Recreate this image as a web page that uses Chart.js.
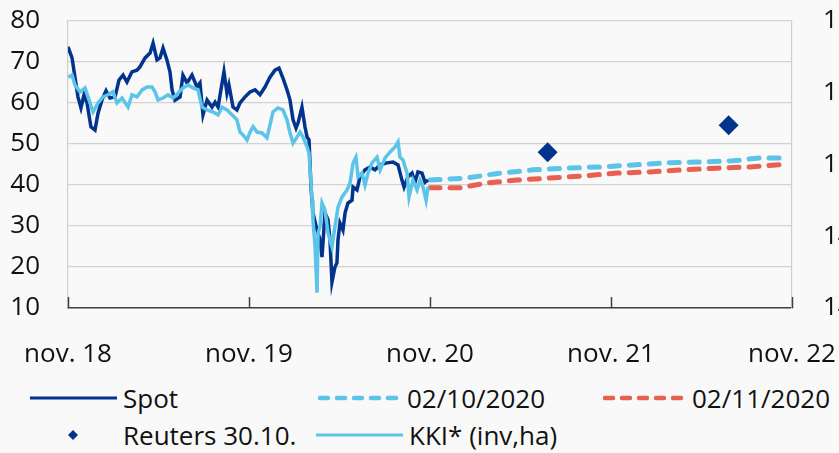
<!DOCTYPE html>
<html lang="hu">
<head>
  <meta charset="UTF-8" />
  <title>Spot, határidős görbék, KKI</title>
  <script src="https://cdn.jsdelivr.net/npm/chart.js"></script>
  <style>
    html, body { margin: 0; padding: 0; background: #f9f9f9; overflow: hidden; }
    body { width: 839px; height: 453px; position: relative; font-family: "Open Sans", sans-serif; color: #111; }
    #chart { position: absolute; left: 0; top: 0; }
    .lg { position: absolute; font-size: 26px; line-height: 30px; white-space: nowrap; }
    .lg svg { position: absolute; }
  </style>
</head>
<body>
  <canvas id="chart" width="880" height="375"></canvas>
  <div id="legend"></div>

  <script>
    // months counted from nov. 2018
    const tickMonths = [0, 12, 24, 36, 48];
    const tickLabels = ['nov. 18', 'nov. 19', 'nov. 20', 'nov. 21', 'nov. 22'];

    const spotMonths = [0,0.27,0.46,0.66,0.86,1.06,1.26,1.52,1.79,1.99,
      2.25,2.52,2.78,3.12,3.38,3.65,3.91,4.24,4.57,4.77,
      5.11,5.44,5.64,5.9,6.1,6.3,6.56,6.76,6.9,7.09,
      7.43,7.62,7.89,8.22,8.55,8.75,8.95,9.22,9.55,9.75,
      9.95,10.14,10.34,10.54,10.67,10.94,11.2,11.4,11.74,12.07,
      12.4,12.73,13.06,13.39,13.72,13.99,14.25,14.52,14.72,14.92,
      15.12,15.25,15.51,15.71,15.85,15.98,16.11,16.24,16.51,16.71,
      16.84,17.04,17.24,17.37,17.5,17.7,17.83,17.9,18.03,18.23,
      18.37,18.56,18.83,18.9,19.16,19.36,19.69,20.02,20.35,20.69,
      21.15,21.55,21.88,22.14,22.28,22.54,22.81,23.01,23.2,23.47,
      23.67,23.87];
    const spotValues = [73.7,71,66.3,61.5,58.8,62,60,54.2,53.4,57.5,
      60.7,63,61.2,61.5,65.6,66.8,65.1,67.6,68,68.8,
      71,72.2,74.6,70.5,71,73.4,70.5,67.6,63.2,60.7,
      61.5,66.8,64.9,66.8,63.9,64.9,57.1,60.7,59,60.2,
      59,63.2,67.6,62.4,64.4,59,58.3,60,61.5,62.7,
      63.2,62,63.9,66.3,68,68.5,66.1,63.2,60.7,55.9,
      53.9,55.1,59,54.2,51.7,51,39.5,33.2,29,26.6,
      22.4,33.2,31.5,26.6,16.3,20,21,26.6,30.7,29,
      33.2,35.6,36.3,39.5,38.8,42,43.7,44.4,43.7,44.9,
      45.4,45.6,44.9,41.2,39.5,42,42.9,40.7,43.2,42.9,
      40.7,41.2];

    const kkiMonths = [0,0.27,0.46,0.8,1.13,1.33,1.66,1.99,2.32,2.65,
      2.98,3.25,3.58,3.98,4.24,4.57,4.91,5.24,5.57,5.77,
      5.97,6.3,6.63,6.96,7.29,7.62,7.96,8.29,8.62,8.88,
      9.22,9.61,9.95,10.21,10.54,10.87,11.2,11.4,11.6,11.87,
      12.07,12.27,12.53,12.86,13.19,13.39,13.59,13.92,14.25,14.52,
      14.72,14.92,15.18,15.38,15.58,15.85,15.98,16.18,16.24,16.38,
      16.51,16.58,16.71,16.84,17.04,17.24,17.5,17.7,17.9,18.17,
      18.5,18.7,18.9,19.09,19.23,19.49,19.69,19.89,20.16,20.49,
      20.69,21.02,21.35,21.68,21.88,22.01,22.21,22.48,22.61,22.87,
      23.14,23.34,23.54,23.74,23.87];
    const kkiValues = [156.09,156.23,155.54,155.06,155.34,154.71,153.66,154.29,154.71,154.86,
      155.06,154.29,154.63,154.0,154.86,154.71,155.2,155.4,155.4,155.06,
      154.49,154.63,154.86,154.63,154.97,155.34,155.54,155.34,155.2,154.0,
      153.8,153.66,153.46,154.0,153.8,153.46,153.11,152.26,152.06,151.71,
      152.26,152.63,152.26,152.2,151.86,152.74,153.66,153.94,153.8,153.11,
      152.2,151.49,151.91,152.26,151.91,151.23,150.8,147.51,146.14,144.26,
      141.06,145.23,145.66,147.31,146.83,145.23,144.26,145.66,147.03,147.74,
      148.23,148.71,150.11,150.51,149.14,149.4,148.57,149.4,150.11,150.51,
      149.63,150.46,150.86,151.23,151.57,150.51,150.31,149.4,147.74,148.91,
      148.23,148.91,148.43,147.51,148.43];

    const fwdOctMonths = [24,26.45,28.64,30.83,33.08,35.27,37.46,39.71,41.9,44.09,45.88,47.67];
    const fwdOctValues = [41.2,41.7,42.9,43.7,44.1,44.4,44.9,45.4,45.6,45.9,46.6,46.6];
    const fwdNovMonths = [24,25.99,27.78,29.77,31.96,34.14,36.4,38.59,40.77,43.03,45.22,47.74];
    const fwdNovValues = [39.3,39.3,40.5,41.2,41.7,42.2,42.9,43.2,43.7,44.1,44.4,45.1];

    const reutersMonths = [31.8, 43.8];
    const reutersValues = [48.0, 54.6];

    const NAVY = '#00338d', LIGHT = '#5bc4e8', RED = '#e8604f';
    const NONE = 'rgba(0,0,0,0)';

    const pts = (xs, ys) => xs.map((x, i) => ({ x: x, y: ys[i] }));

    // short tick marks pointing up into the plot, like the original
    const insideTicks = {
      id: 'insideTicks',
      afterDraw(chart) {
        const { ctx, chartArea, scales } = chart;
        ctx.save();
        ctx.strokeStyle = '#404040';
        ctx.lineWidth = 1.5;
        scales.x.ticks.forEach(t => {
          const px = Math.round(scales.x.getPixelForValue(t.value)) + 0.5;
          ctx.beginPath();
          ctx.moveTo(px, chartArea.bottom);
          ctx.lineTo(px, chartArea.bottom - 11);
          ctx.stroke();
        });
        ctx.restore();
      }
    };

    const font = { family: '"Open Sans", sans-serif', size: 26 };

    new Chart(document.getElementById('chart'), {
      type: 'line',
      data: {
        datasets: [
          { label: 'Reuters 30.10.', data: pts(reutersMonths, reutersValues), showLine: false,
            pointStyle: 'rectRot', pointRadius: 10, backgroundColor: NAVY, borderWidth: 0, yAxisID: 'y' },
          { label: 'KKI* (inv,ha)', data: pts(kkiMonths, kkiValues), borderColor: LIGHT,
            borderWidth: 3.5, yAxisID: 'y2' },
          { label: 'Spot', data: pts(spotMonths, spotValues), borderColor: NAVY,
            borderWidth: 3.5, yAxisID: 'y' },
          { label: '02/10/2020', data: pts(fwdOctMonths, fwdOctValues), borderColor: LIGHT,
            borderWidth: 5, borderDash: [10, 10], borderCapStyle: 'round', yAxisID: 'y' },
          { label: '02/11/2020', data: pts(fwdNovMonths, fwdNovValues), borderColor: RED,
            borderWidth: 5, borderDash: [10, 10], borderCapStyle: 'round', yAxisID: 'y' }
        ]
      },
      options: {
        responsive: false,
        animation: false,
        devicePixelRatio: 1,
        elements: { point: { radius: 0 }, line: { tension: 0 } },
        layout: { padding: { top: 21, left: 0, right: 0, bottom: 0 } },
        plugins: { legend: { display: false }, tooltip: { enabled: false } },
        scales: {
          x: {
            type: 'linear', min: 0, max: 48,
            afterBuildTicks: s => { s.ticks = tickMonths.map(v => ({ value: v })); },
            ticks: {
              font: font, color: '#111', padding: 4, maxRotation: 0, autoSkip: false,
              callback: v => tickLabels[tickMonths.indexOf(v)]
            },
            grid: { display: false, drawTicks: true, tickLength: 27, tickColor: NONE },
            border: { display: true, color: '#404040', width: 1.5 },
            afterFit: s => { s.height = 67; }
          },
          y: {
            position: 'left', min: 10, max: 80,
            ticks: { stepSize: 10, font: font, color: '#111', padding: 4 },
            grid: { color: '#d2d2d2', lineWidth: 1.2, drawTicks: true, tickLength: 24, tickColor: NONE },
            border: { color: '#cfcfcf', width: 1.2 },
            afterFit: s => { s.width = 68; }
          },
          y2: {
            position: 'right', min: 140, max: 160,
            ticks: { stepSize: 5, font: font, color: '#111', padding: 4 },
            grid: { drawOnChartArea: false, drawTicks: true, tickLength: 27, tickColor: NONE },
            border: { color: '#cfcfcf', width: 1.2 },
            afterFit: s => { s.width = 88; }
          }
        }
      },
      plugins: [insideTicks]
    });

    // legend laid out like the original, two rows, three columns
    const legendItems = [
      { label: 'Spot', color: NAVY, kind: 'solid', x: 30, y: 399 },
      { label: '02/10/2020', color: LIGHT, kind: 'dash', x: 318, y: 399 },
      { label: '02/11/2020', color: RED, kind: 'dash', x: 603, y: 399 },
      { label: 'Reuters 30.10.', color: NAVY, kind: 'diamond', x: 30, y: 436 },
      { label: 'KKI* (inv,ha)', color: LIGHT, kind: 'solid', x: 316, y: 436 }
    ];
    const legend = document.getElementById('legend');
    legendItems.forEach(it => {
      let sym;
      if (it.kind === 'solid') {
        sym = `<svg width="87" height="10" style="left:0;top:10px"><line x1="0" y1="5" x2="87" y2="5" stroke="${it.color}" stroke-width="3.2"/></svg>`;
      } else if (it.kind === 'dash') {
        sym = `<svg width="87" height="10" style="left:0;top:10px"><line x1="2" y1="5" x2="85" y2="5" stroke="${it.color}" stroke-width="4.5" stroke-linecap="round" stroke-dasharray="8 9"/></svg>`;
      } else {
        sym = `<svg width="12" height="12" style="left:37px;top:9px"><polygon points="6,1 11,6 6,11 1,6" fill="${it.color}"/></svg>`;
      }
      const textLeft = it.kind === 'dash' ? 89 : 93;
      const d = document.createElement('div');
      d.className = 'lg';
      d.style.left = it.x + 'px';
      d.style.top = (it.y - 16) + 'px';
      d.style.width = '300px';
      d.style.height = '30px';
      d.innerHTML = sym + `<span style="position:absolute;left:${textLeft}px;top:0">${it.label}</span>`;
      legend.appendChild(d);
    });
  </script>
</body>
</html>
